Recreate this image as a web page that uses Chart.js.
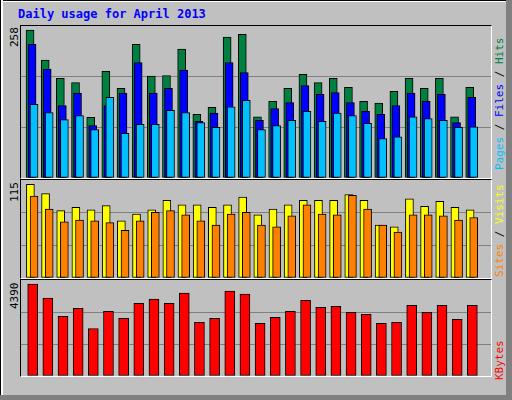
<!DOCTYPE html>
<html>
<head>
<meta charset="utf-8">
<script src="https://cdn.jsdelivr.net/npm/chart.js@4"></script>
<style>
  body { margin: 0; background: #c0c0c0; }
  #frame { position: absolute; left: 0; top: 0; width: 512px; height: 400px; background: #c0c0c0; overflow: hidden; }
  #edgeR { position: absolute; left: 506px; top: 0; width: 6px; height: 400px; background: #808080; }
  #edgeB { position: absolute; left: 0; top: 395px; width: 512px; height: 5px; background: #808080; }
  #edgeL { position: absolute; left: 0; top: 0; width: 2px; height: 400px; background: #fff; border-left: 1px solid #000; }
  #edgeT { position: absolute; left: 0; top: 0; width: 512px; height: 1px; background: #fff; border-top: 1px solid #000; }
  .txt { position: absolute; font-family: "DejaVu Sans Mono", monospace; font-size: 11px; white-space: nowrap; }
  .rot { transform: rotate(-90deg); transform-origin: left top; }
  .panel { position: absolute; left: 20px; width: 470px; border-left: 1px solid #000; border-top: 1px solid #000; border-right: 1px solid #fff; border-bottom: 1px solid #fff; }
  canvas { display: block; }
</style>
</head>
<body>
<div id="frame">
  <div id="edgeT"></div><div id="edgeL"></div><div id="edgeR"></div><div id="edgeB"></div>
  <div class="txt" style="left:18px;top:7px;color:#0000ff;font-weight:bold;font-size:12px">Daily usage for April 2013</div>
  <div class="txt rot" style="left:8px;top:47px;color:#000">258</div>
  <div class="txt rot" style="left:8px;top:202px;color:#000">115</div>
  <div class="txt rot" style="left:8px;top:309px;color:#000">4390</div>
  <div class="txt rot" style="left:493px;top:170px"><span style="color:#00c0ff">Pages</span> / <span style="color:#0000ff">Files</span> / <span style="color:#008040">Hits</span></div>
  <div class="txt rot" style="left:493px;top:277px"><span style="color:#ff8000">Sites</span> / <span style="color:#ffff00">Visits</span></div>
  <div class="txt rot" style="left:493px;top:380px;color:#ff0000">KBytes</div>
  <div class="panel" style="top:25px;height:152px"><canvas id="c1" width="470" height="152"></canvas></div>
  <div class="panel" style="top:179px;height:98px"><canvas id="c2" width="470" height="98"></canvas></div>
  <div class="panel" style="top:279px;height:96px"><canvas id="c3" width="470" height="96"></canvas></div>
  <div style="position:absolute;left:21px;top:378px;width:470px;height:17px"><canvas id="c4" width="470" height="17"></canvas></div>
</div>
<script>
var days = [];
for (var d = 1; d <= 31; d++) days.push(d);
var weekend = [6, 7, 13, 14, 20, 21, 27, 28];

var hits   = [251,200,169,162,103,181,152,227,173,174,219,108,120,239,244,104,130,152,176,162,169,154,130,127,147,169,152,169,104,154];
var files  = [227,185,123,144, 89,123,144,196,144,152,183, 96,110,196,179, 98,118,128,157,142,145,128,113,108,123,144,130,142, 94,137];
var pages  = [125,111, 99,106, 82,137, 76, 91, 91,115,111, 94, 86,121,132, 82, 89, 98,113, 96,110,106, 93, 67, 70,104,101, 98, 86, 87];
var visits = [110, 99, 79, 83, 80, 85, 67, 75, 80, 91, 86, 86, 83, 86, 95, 74, 81, 86, 91, 91, 91, 98, 91, 62, 60, 93, 84, 90, 83, 80];
var sites  = [ 96, 81, 66, 68, 67, 65, 56, 67, 77, 79, 74, 67, 62, 75, 77, 62, 60, 73, 86, 75, 74, 97, 81, 62, 54, 74, 74, 73, 68, 71];
var kbytes = [4205,3558,2726,3096,2172,2957,2634,3327,3512,3327,3789,2449,2634,3882,3743,2403,2680,2957,3466,3142,3189,2911,2819,2403,2449,3235,2911,3235,2588,3235];

var xMin = 0.14, xMax = 31.14;

function pts(vals, shift) {
  return vals.map(function (v, i) { return { x: days[i] + shift, y: v }; });
}

function ds(vals, shift, color, order, thick) {
  return { data: pts(vals, shift), backgroundColor: color, borderColor: "#000", borderWidth: 1,
           borderSkipped: false, barThickness: thick, order: order, grouped: false };
}

function makeChart(id, datasets, yMax, showX) {
  new Chart(document.getElementById(id), {
    type: "bar",
    data: { datasets: datasets },
    options: {
      responsive: false, animation: false,
      layout: { padding: 0 },
      plugins: { legend: { display: false }, tooltip: { enabled: false } },
      scales: {
        x: {
          type: "linear", min: xMin, max: xMax, offset: false,
          display: showX, position: "top",
          grid: { display: false }, border: { display: false },
          afterBuildTicks: function (ax) { ax.ticks = days.map(function (d) { return { value: d }; }); },
          ticks: {
            autoSkip: false, maxRotation: 0, padding: 0,
            font: { family: "DejaVu Sans Mono", size: 11 },
            color: function (c) { return weekend.indexOf(c.tick.value) >= 0 ? "#008040" : "#000"; },
            callback: function (v) { return v; }
          }
        },
        y: {
          min: 0, max: yMax, display: !showX,
          afterBuildTicks: function (ax) { ax.ticks = [0, 1, 2, 3].map(function (k) { return { value: yMax * k / 3 }; }); },
          ticks: { display: false },
          grid: { color: function (c) { return (c.index === 1 || c.index === 2) ? "#808080" : "rgba(0,0,0,0)"; }, drawTicks: false, lineWidth: 1 },
          border: { display: false }
        }
      }
    }
  });
}

makeChart("c1", [
  ds(hits, -0.264, "#008040", 3, 8),
  ds(files, -0.132, "#0000ff", 2, 8),
  ds(pages, 0, "#00c0ff", 1, 8)
], 258, false);

makeChart("c2", [
  ds(visits, -0.24, "#ffff00", 2, 8),
  ds(sites, 0, "#ff8000", 1, 8)
], 115, false);

makeChart("c3", [
  ds(kbytes, -0.09, "#ff0000", 1, 10)
], 4390, false);

makeChart("c4", [], 1, true);
</script>
</body>
</html>
